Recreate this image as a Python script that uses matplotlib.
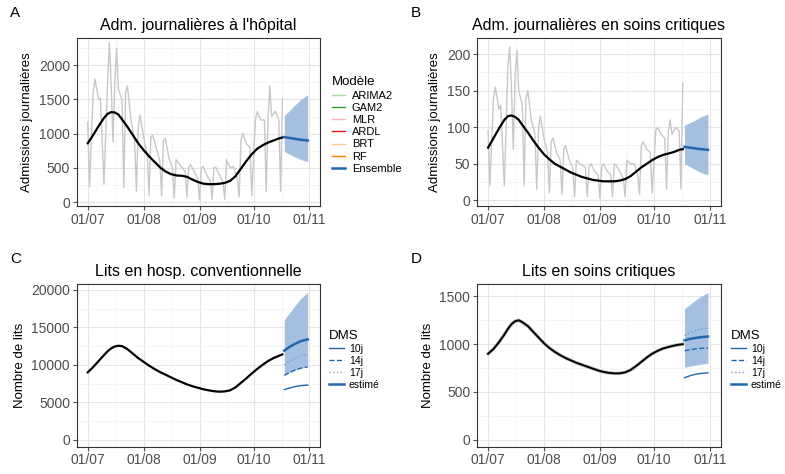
import numpy as np
import matplotlib.pyplot as plt
from matplotlib.lines import Line2D

# day offsets from 01/07
xticks = [0, 31, 62, 92, 123]
xlabels = ['01/07', '01/08', '01/09', '01/10', '01/11']

a_raw_d = [0,1,3,4,6,7,9,11,12,13,14,15,16,17,19,20,21,22,24,26,27,28,29,31,33,34,35,36,38,40,41,42,43,45,47,48,49,51,54,55,56,57,59,61,62,63,64,66,68,69,70,71,73,75,76,77,79,81,83,84,85,86,88,90,91,93,94,96,98,99,100,101,102,104,106,107,108]
a_raw_v = [1170,220,1600,1800,1500,1520,260,1750,2330,1700,880,1750,2250,1650,1500,210,1600,1700,1200,900,160,1100,1270,950,700,100,950,980,800,600,90,900,930,650,500,60,620,550,450,80,500,550,450,350,30,500,520,400,300,40,500,510,400,300,40,620,500,520,330,80,900,1010,850,800,100,1200,1320,1200,1200,150,1200,1700,1250,1330,1200,160,1510]
b_raw_v = [95,20,140,155,125,130,20,185,210,150,70,170,205,150,130,20,140,150,110,90,15,100,115,85,65,10,80,85,65,55,8,70,75,55,45,5,55,50,45,5,45,50,40,35,3,45,50,40,35,5,50,48,40,30,5,55,50,50,35,8,75,80,70,65,10,95,100,90,85,15,95,110,90,100,95,15,160]

obs_d = [0,3,6,9,11,13,15,17,19,22,25,28,31,34,37,40,43,46,49,52,55,58,61,64,67,70,73,76,79,82,85,88,91,94,97,100,103,106,108]
a_smooth = [860,980,1110,1230,1290,1315,1310,1280,1210,1100,980,860,760,670,590,510,450,410,390,385,370,330,295,270,262,262,268,280,310,380,490,600,700,780,830,870,900,930,945]
b_smooth = [72,85,98,110,115,116,114,110,103,93,82,72,63,56,50,46,42,38,35,32,30,28,27,26,26,26,27,29,33,39,45,50,55,59,62,64,66,69,70]
c_smooth = [9000,9700,10500,11300,11800,12200,12450,12550,12500,12100,11500,10900,10400,9900,9450,9050,8700,8350,8000,7700,7400,7150,6950,6750,6600,6480,6420,6450,6600,7000,7600,8200,8850,9450,10000,10500,10900,11200,11400]
d_smooth = [900,950,1020,1100,1160,1210,1240,1250,1230,1190,1130,1070,1010,960,920,885,855,830,805,785,765,745,725,710,700,695,695,705,730,770,815,860,900,930,955,970,985,995,1000]

fc_d = [109, 112, 115, 118, 122]
a_ens = [950, 938, 925, 912, 900]
a_lo = [740, 700, 660, 625, 590]
a_hi = [1260, 1340, 1420, 1495, 1570]
b_ens = [73, 72, 71, 70, 69]
b_lo = [50, 46, 42, 38, 35]
b_hi = [103, 106, 110, 114, 118]
c_est = [11900, 12400, 12800, 13150, 13400]
c_10 = [6700, 6900, 7100, 7220, 7300]
c_14 = [8600, 9000, 9300, 9550, 9700]
c_17 = [10000, 10500, 10900, 11200, 11400]
c_lo = [8700, 9000, 9300, 9550, 9800]
c_hi = [16000, 16950, 17900, 18800, 19700]
d_est = [1040, 1055, 1065, 1073, 1080]
d_10 = [650, 670, 685, 694, 700]
d_14 = [930, 942, 950, 956, 960]
d_17 = [1090, 1120, 1140, 1158, 1170]
d_lo = [760, 770, 780, 790, 800]
d_hi = [1370, 1415, 1460, 1500, 1540]

blue = '#2166ac'
band = '#a4bfe0'

fig = plt.figure(figsize=(7.85, 4.74), dpi=100)
plt.rcParams['font.family'] = 'Liberation Sans'

def setup(rect, title, letter, ylabel, ylim, yticks):
    ax = fig.add_axes(rect)
    ax.set_xlim(-6, 129)
    ax.set_ylim(*ylim)
    ax.set_xticks(xticks)
    ax.set_xticklabels(xlabels)
    ax.set_yticks(yticks)
    mx = [(xticks[i] + xticks[i + 1]) / 2 for i in range(4)]
    ax.set_xticks(mx, minor=True)
    step = yticks[1] - yticks[0]
    my = [y + step / 2 for y in yticks if y + step / 2 < ylim[1]]
    ax.set_yticks(my, minor=True)
    ax.grid(True, which='major', color='#e5e5e5', lw=0.8)
    ax.grid(True, which='minor', color='#f2f2f2', lw=0.5)
    ax.set_axisbelow(True)
    ax.tick_params(labelsize=10, colors='#4d4d4d', which='major', length=3, pad=2)
    ax.tick_params(which='minor', length=0)
    for s in ax.spines.values():
        s.set_color('#333333')
        s.set_linewidth(0.8)
    ax.set_title(title, fontsize=11.5, pad=6)
    ax.set_ylabel(ylabel, fontsize=9.5)
    fig.text(rect[0] - 0.085, rect[1] + rect[3] + 0.045, letter, fontsize=11)
    return ax

axA = setup([0.098, 0.565, 0.31, 0.355], "Adm. journalières à l'hôpital", 'A', 'Admissions journalières', (-60, 2400), [0, 500, 1000, 1500, 2000])
axA.plot(a_raw_d, a_raw_v, color='#c8c8c8', lw=1)
axA.plot(obs_d, a_smooth, color='black', lw=1.6)
axA.fill_between(fc_d, a_lo, a_hi, color=band, lw=0)
axA.plot(fc_d, a_ens, color='#e67e22', lw=1)
axA.plot(fc_d, a_ens, color=blue, lw=1.8)

axB = setup([0.608, 0.565, 0.31, 0.355], 'Adm. journalières en soins critiques', 'B', 'Admissions journalières', (-8, 222), [0, 50, 100, 150, 200])
axB.plot(a_raw_d, b_raw_v, color='#c8c8c8', lw=1)
axB.plot(obs_d, b_smooth, color='black', lw=1.6)
axB.fill_between(fc_d, b_lo, b_hi, color=band, lw=0)
axB.plot(fc_d, b_ens, color=blue, lw=1.8)

axC = setup([0.098, 0.058, 0.31, 0.343], 'Lits en hosp. conventionnelle', 'C', 'Nombre de lits', (-900, 20800), [0, 5000, 10000, 15000, 20000])
axC.plot(obs_d, c_smooth, color='black', lw=1.6)
axC.fill_between(fc_d, c_lo, c_hi, color=band, lw=0)
axC.plot(fc_d, c_10, color=blue, lw=1)
axC.plot(fc_d, c_14, color=blue, lw=1, ls='--')
axC.plot(fc_d, c_17, color='#6f9fd0', lw=1, ls=':')
axC.plot(fc_d, c_est, color=blue, lw=1.8)

axD = setup([0.608, 0.058, 0.31, 0.343], 'Lits en soins critiques', 'D', 'Nombre de lits', (-70, 1630), [0, 500, 1000, 1500])
axD.plot(obs_d, d_smooth, color='#bdbdbd', lw=2.5)
axD.plot(obs_d, d_smooth, color='black', lw=1.4)
axD.fill_between(fc_d, d_lo, d_hi, color=band, lw=0)
axD.plot(fc_d, d_10, color=blue, lw=1)
axD.plot(fc_d, d_14, color=blue, lw=1, ls='--')
axD.plot(fc_d, d_17, color='#6f9fd0', lw=1, ls=':')
axD.plot(fc_d, d_est, color=blue, lw=1.8)

models = ['ARIMA2', 'GAM2', 'MLR', 'ARDL', 'BRT', 'RF', 'Ensemble']
mcolors = ['#a6dba0', '#33a02c', '#fbb4b9', '#e31a1c', '#fdcc8a', '#ff7f00', blue]
h1 = [Line2D([], [], color=c, lw=1.8 if m == 'Ensemble' else 1) for m, c in zip(models, mcolors)]
fig.legend(h1, models, title='Modèle', loc='upper left', bbox_to_anchor=(0.41, 0.86), frameon=False,
           fontsize=8, title_fontsize=9.5, handlelength=1.2, handletextpad=0.6, labelspacing=0.2, alignment='left')

dms = ['10j', '14j', '17j', 'estimé']
h2 = [Line2D([], [], color=blue, lw=1), Line2D([], [], color=blue, lw=1, ls='--'),
      Line2D([], [], color='#6f9fd0', lw=1, ls=':'), Line2D([], [], color=blue, lw=1.8)]
for x in (0.41, 0.922):
    fig.legend(h2, dms, title='DMS', loc='upper left', bbox_to_anchor=(x, 0.32), frameon=False,
               fontsize=7.5, title_fontsize=9.5, handlelength=1.4, handletextpad=0.5, labelspacing=0.2,
               borderpad=0.2, alignment='left')

fig.savefig('out.png')
